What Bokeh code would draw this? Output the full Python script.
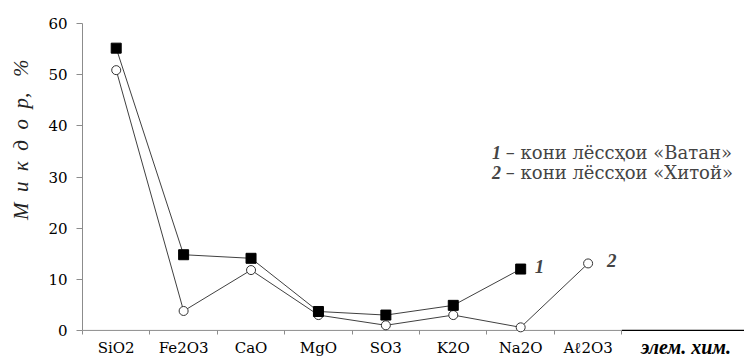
import math
from bokeh.plotting import figure
from bokeh.models import Range1d, FixedTicker, Label
from bokeh.embed import file_html
from bokeh.resources import INLINE

# ---- data ----
categories = ["SiO2", "Fe2O3", "CaO", "MgO", "SO3", "K2O", "Na2O", "Aℓ2O3"]
vatan = [55.2, 14.8, 14.1, 3.7, 3.0, 4.9, 12.0]          # 1 – «Ватан» (squares)
khitoy = [50.9, 3.8, 11.8, 3.0, 1.0, 3.0, 0.6, 13.1]     # 2 – «Хитой» (circles)
y_ticks = [0, 10, 20, 30, 40, 50, 60]
legend_texts = ["– кони лёссҳои «Ватан»", "– кони лёссҳои «Хитой»"]
legend_nums = ["1", "2"]
y_title = "М\u00a0\u00a0и\u00a0\u00a0к\u00a0\u00a0д\u00a0\u00a0о\u00a0\u00a0р,\u00a0\u00a0\u00a0%"
x_title = "элем. хим."

SERIF = "DejaVu Serif"          # regular serif text
SERIF_IT = "Times New Roman"    # italic / bold italic text
AXIS_GRAY = "#8c8c8c"
LINE_COL = "#404040"

n = len(categories)
x_end = 9.32

p = figure(width=744, height=360, output_backend="svg", toolbar_location=None,
           x_range=Range1d(-0.5, x_end), y_range=Range1d(-0.8, 61),
           min_border_left=82, min_border_right=0, min_border_top=18,
           min_border_bottom=24)
p.outline_line_color = None
p.xgrid.visible = False
p.ygrid.visible = False
p.background_fill_color = "white"
p.border_fill_color = "white"

# x axis
xa = p.xaxis[0]
xa.ticker = FixedTicker(ticks=list(range(n)),
                        minor_ticks=[i - 0.5 for i in range(n + 1)])
xa.major_label_overrides = {i: c for i, c in enumerate(categories)}
xa.axis_line_color = None
xa.major_tick_in = 0
xa.major_tick_out = 0
xa.minor_tick_in = 4
xa.minor_tick_out = 0
xa.minor_tick_line_color = AXIS_GRAY
xa.major_label_text_font = SERIF
xa.major_label_text_font_size = "15px"
xa.major_label_text_color = "black"
xa.major_label_standoff = 4
# the axis title sits on the same row as the category labels, at the right end
xa.axis_label = "\u00a0" * 109 + x_title
xa.axis_label_text_font = SERIF_IT
xa.axis_label_text_font_style = "bold italic"
xa.axis_label_text_font_size = "20px"
xa.axis_label_text_color = "black"
xa.axis_label_standoff = -24
xa.axis_label_align = "center"

# y axis
ya = p.yaxis[0]
ya.ticker = FixedTicker(ticks=y_ticks)
ya.bounds = (0, 60)
ya.axis_line_color = AXIS_GRAY
ya.major_tick_line_color = AXIS_GRAY
ya.major_tick_in = 0
ya.major_tick_out = 6
ya.minor_tick_line_color = None
ya.major_label_text_font = SERIF
ya.major_label_text_font_size = "15px"
ya.major_label_text_color = "black"
ya.major_label_standoff = 9
ya.axis_label = "\u00a0" * 14 + y_title
ya.axis_label_text_font = SERIF_IT
ya.axis_label_text_font_style = "italic"
ya.axis_label_text_font_size = "21px"
ya.axis_label_text_color = "#222222"
ya.axis_label_standoff = 12

# baseline: gray under the categories, black under the axis title
p.segment(x0=[-0.5, n - 0.5], y0=[0, 0], x1=[n - 0.5, x_end], y1=[0, 0],
          line_color=[AXIS_GRAY, "black"], line_width=[1, 1.3])

xs2 = list(range(len(khitoy)))
xs1 = list(range(len(vatan)))
p.line(xs2, khitoy, line_color=LINE_COL, line_width=1)
p.line(xs1, vatan, line_color=LINE_COL, line_width=1)
p.scatter(xs2, khitoy, marker="circle", size=9, fill_color="white",
          line_color="#333333", line_width=1)
p.scatter(xs1, vatan, marker="square", size=10, fill_color="black",
          line_color="black")

# series numbers near the ends
p.add_layout(Label(x=len(vatan) - 1, y=vatan[-1], x_offset=14, y_offset=3,
                   text="1", text_font=SERIF_IT, text_font_style="bold italic",
                   text_font_size="19px", text_baseline="alphabetic"))
p.add_layout(Label(x=len(khitoy) - 1, y=khitoy[-1], x_offset=19, y_offset=3,
                   text="2", text_font=SERIF_IT, text_font_style="bold italic",
                   text_font_size="19px", text_baseline="alphabetic"))

# legend text
for k, (num, txt) in enumerate(zip(legend_nums, legend_texts)):
    yy = 34.76 - k * 3.9
    p.add_layout(Label(x=5.575, y=yy, text=num, text_font=SERIF_IT,
                       text_font_style="bold italic", text_font_size="18px",
                       text_baseline="alphabetic"))
    p.add_layout(Label(x=5.78, y=yy, text=txt, text_font=SERIF,
                       text_font_size="18px", text_baseline="alphabetic"))

open("out.html", "w").write(file_html(p, INLINE))
